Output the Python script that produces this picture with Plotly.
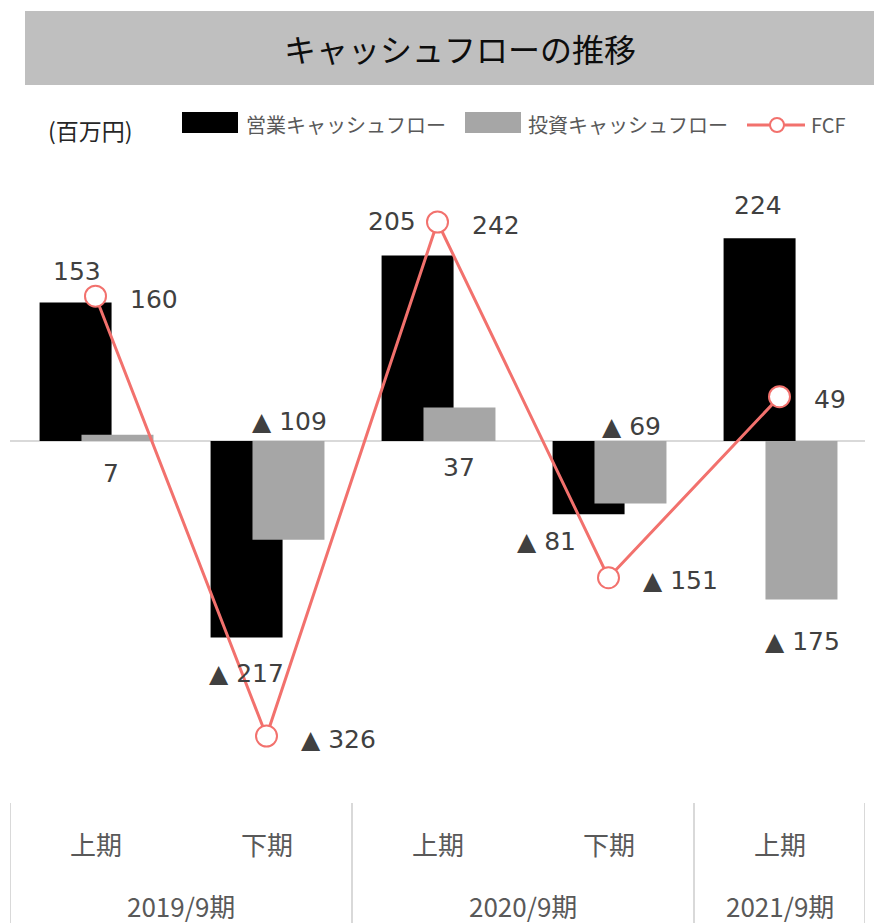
import plotly.graph_objects as go

# ---- data ----
halves = ["上期", "下期", "上期", "下期", "上期"]
fiscal_years = ["2019/9期", "2020/9期", "2021/9期"]
year_spans = [(0, 1), (2, 3), (4, 4)]
operating_cf = [153, -217, 205, -81, 224]
investing_cf = [7, -109, 37, -69, -175]
fcf = [160, -326, 242, -151, 49]
unit_label = "(百万円)"
title_text = "キャッシュフローの推移"
series_names = ["営業キャッシュフロー", "投資キャッシュフロー", "FCF"]

# ---- layout constants ----
W, H = 874, 923
ML, MR, MT, MB = 10, 9, 160, 133
PW, PH = W - ML - MR, H - MT - MB


def px(X):
    return (X - ML) / PW


def py(Y):
    return (H - MB - Y) / PH


BLACK = "#000000"
GRAY = "#a6a6a6"
RED = "#f2716d"
TXT = "#404040"
AX = "#595959"
NUMFONT = "DejaVu Sans, Verdana, Noto Sans CJK JP"
JPFONT = "Noto Sans CJK JP, Noto Sans, sans-serif"

OP_OFF, INV_OFF, BW = -0.327, -0.082, 0.421

x = list(range(len(halves)))

fig = go.Figure()
fig.add_trace(go.Bar(x=x, y=operating_cf, offset=OP_OFF, width=BW,
                     marker=dict(color=BLACK, line=dict(width=0)),
                     name=series_names[0], showlegend=False))
fig.add_trace(go.Bar(x=x, y=investing_cf, offset=INV_OFF, width=BW,
                     marker=dict(color=GRAY, line=dict(width=0)),
                     name=series_names[1], showlegend=False))
fig.add_trace(go.Scatter(x=x, y=fcf, mode="lines+markers",
                         line=dict(color=RED, width=3),
                         marker=dict(size=21, color="white",
                                     line=dict(color=RED, width=2)),
                         name=series_names[2], showlegend=False))


def fmt(v):
    return f"▲ {abs(v)}" if v < 0 else f"{v}"


ann = []
# operating labels: (dx, dy, anchor)
op_pos = [(1, 31, "end"), (0, -36, "end"), (-26, 34, "end"), (-42, -27, "end"), (-2, 33, "end")]
for i, v in enumerate(operating_cf):
    dx, dy, a = op_pos[i]
    ann.append(dict(x=i + OP_OFF + BW / 2, y=v if a == "end" else 0, xref="x", yref="y",
                    text=fmt(v), showarrow=False, xshift=dx, yshift=dy,
                    xanchor="center", yanchor="middle",
                    font=dict(family=NUMFONT, size=25, color=TXT)))
inv_pos = [(-6, -32, "base"), (1, 20, "base"), (0, -26, "base"), (1, 15, "base"), (1, -42, "end")]
for i, v in enumerate(investing_cf):
    dx, dy, a = inv_pos[i]
    ann.append(dict(x=i + INV_OFF + BW / 2, y=v if a == "end" else 0, xref="x", yref="y",
                    text=fmt(v), showarrow=False, xshift=dx, yshift=dy,
                    xanchor="center", yanchor="middle",
                    font=dict(family=NUMFONT, size=25, color=TXT)))
for i, v in enumerate(fcf):
    ann.append(dict(x=i, y=v, xref="x", yref="y", text=fmt(v), showarrow=False,
                    xanchor="left", yanchor="middle", xshift=32, yshift=-3,
                    font=dict(family=NUMFONT, size=25, color=TXT)))

# category labels
for i, h in enumerate(halves):
    ann.append(dict(x=i, y=py(843), xref="x", yref="paper", text=h, showarrow=False,
                    xanchor="center", yanchor="middle",
                    font=dict(family=JPFONT, size=26, color=AX)))
for (a, b), fy in zip(year_spans, fiscal_years):
    ann.append(dict(x=(a + b) / 2, y=py(905), xref="x", yref="paper", text=fy,
                    xanchor="center", yanchor="middle",
                    showarrow=False, font=dict(family=JPFONT, size=26, color=AX)))

# title
ann.append(dict(x=px(460), y=py(48), xref="paper", yref="paper", text=title_text,
                xanchor="center", yanchor="middle",
                showarrow=False, font=dict(family=JPFONT, size=32, color="#0d0d0d")))
# unit label and legend texts
ann.append(dict(x=px(90), y=py(130), xref="paper", yref="paper", text=unit_label,
                xanchor="center", yanchor="middle",
                showarrow=False, font=dict(family=JPFONT, size=23, color="#262626")))
for X, t in zip([244, 526, 809], series_names):
    ann.append(dict(x=px(X), y=py(125), xref="paper", yref="paper", text=t,
                    xanchor="left", yanchor="middle", showarrow=False,
                    font=dict(family=JPFONT, size=20, color=AX)))

shapes = []
# title band
shapes.append(dict(type="rect", xref="paper", yref="paper", x0=px(25), x1=px(874),
                   y0=py(85), y1=py(11), fillcolor="#bfbfbf", line=dict(width=0), layer="below"))
# legend symbols
shapes.append(dict(type="rect", xref="paper", yref="paper", x0=px(182), x1=px(238),
                   y0=py(133), y1=py(112), fillcolor=BLACK, line=dict(width=0)))
shapes.append(dict(type="rect", xref="paper", yref="paper", x0=px(465), x1=px(521),
                   y0=py(133), y1=py(112), fillcolor=GRAY, line=dict(width=0)))
shapes.append(dict(type="line", xref="paper", yref="paper", x0=px(747), x1=px(805),
                   y0=py(125), y1=py(125), line=dict(color=RED, width=3)))
shapes.append(dict(type="circle", xref="paper", yref="paper", x0=px(770), x1=px(784),
                   y0=py(132), y1=py(118), fillcolor="white", line=dict(color=RED, width=2)))
# category separators
for sx in [-0.5, 1.5, 3.5, 4.5]:
    shapes.append(dict(type="line", xref="x", yref="paper", x0=sx, x1=sx,
                       y0=py(803), y1=py(923), line=dict(color="#d9d9d9", width=2)))

fig.update_layout(
    width=W, height=H, margin=dict(l=ML, r=MR, t=MT, b=MB),
    paper_bgcolor="white", plot_bgcolor="white",
    barmode="overlay", showlegend=False,
    annotations=ann, shapes=shapes,
    xaxis=dict(range=[-0.5, 4.5], showticklabels=False, showgrid=False,
               zeroline=False, showline=False, fixedrange=True),
    yaxis=dict(range=[-385.6, 310.5], showticklabels=False, showgrid=False,
               zeroline=True, zerolinecolor="#d9d9d9", zerolinewidth=2,
               showline=False, fixedrange=True),
)

fig.write_html("out.html")
